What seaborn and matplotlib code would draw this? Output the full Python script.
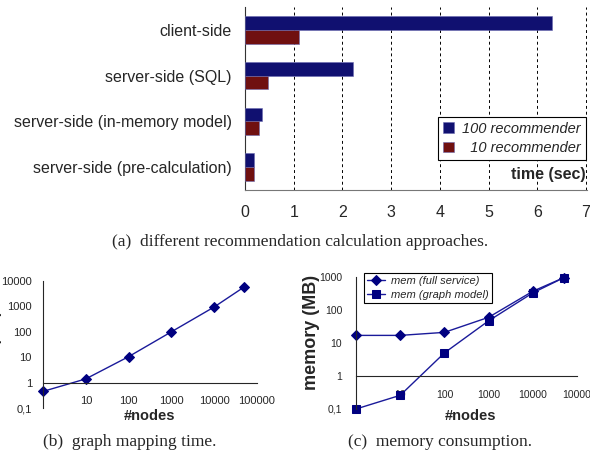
import pandas as pd
import matplotlib
matplotlib.use('Agg')
import matplotlib.pyplot as plt
from matplotlib.ticker import FixedLocator, LogLocator, NullFormatter
import seaborn as sns

# (a) recommendation calculation approaches
approaches = ['client-side', 'server-side (SQL)', 'server-side (in-memory model)',
              'server-side (pre-calculation)']
time_100 = [6.3, 2.22, 0.35, 0.19]
time_10 = [1.1, 0.47, 0.28, 0.18]
series_names = ['100 recommender', '10 recommender']

# (b) graph mapping time / (c) memory consumption
nodes = [1, 10, 100, 1000, 10000, 50000]
map_time = [0.45, 1.4, 10.5, 100, 950, 5800]
mem_full = [17, 17, 21, 60, 370, 950]
mem_graph = [0.1, 0.26, 5.0, 47, 330, 950]
b_xticklabels = ['', '10', '100', '1000', '10000', '100000']
c_xticklabels = ['', '10', '100', '1000', '10000', '10000']

sns.set_style('white')
plt.rcParams['font.family'] = ['Liberation Sans', 'DejaVu Sans']

W, H = 590, 458
fig = plt.figure(figsize=(W / 100, H / 100), dpi=100)


def px_axes(l, t, r, b):
    return fig.add_axes([l / W, 1 - b / H, (r - l) / W, (b - t) / H])


ax_a = px_axes(245, 7, 587, 190)
ax_b = px_axes(43, 281, 257, 408)
ax_c = px_axes(356, 277, 577, 409)

navy = '#000080'
maroon = '#800000'
line_col = '#1a1a9a'

# ---------- (a) ----------
df = pd.DataFrame({
    'approach': approaches * 2,
    'time': time_100 + time_10,
    'series': [series_names[0]] * 4 + [series_names[1]] * 4,
})
sns.barplot(data=df, y='approach', x='time', hue='series', orient='h',
            palette=[navy, maroon], width=0.6, errorbar=None,
            edgecolor='#6a6ab0', linewidth=0.4, ax=ax_a, zorder=3)
ax_a.set_xlim(0, 7.02)
ax_a.set_ylim(3.5, -0.5)
ax_a.set_xticks(range(8))
ax_a.xaxis.grid(True, color='black', linestyle=(0, (3, 3)), linewidth=0.7)
ax_a.set_axisbelow(True)
for s in ['top', 'right']:
    ax_a.spines[s].set_visible(False)
ax_a.spines['left'].set_color('#333333')
ax_a.spines['bottom'].set_color('#777777')
ax_a.yaxis.set_minor_locator(FixedLocator([-0.5, 0.5, 1.5, 2.5, 3.5]))
ax_a.tick_params(axis='y', which='major', length=0, pad=9.5, labelsize=11.5)
ax_a.tick_params(axis='y', which='minor', length=5, direction='out', color='#333333')
ax_a.tick_params(axis='x', direction='inout', length=8, pad=7, labelsize=11.5,
                 color='#555555')
ax_a.set_ylabel('')
ax_a.set_xlabel('time (sec)', fontweight='bold', fontsize=11.5, loc='right')
ax_a.xaxis.set_label_coords(0.995, 0.125)
h, _ = ax_a.get_legend_handles_labels()
ax_a.legend(h, ['100 recommender', '  10 recommender'], title=None,
            loc='upper right', bbox_to_anchor=(0.998, 0.40), borderaxespad=0,
            prop={'style': 'italic', 'size': 10.5}, frameon=True, fancybox=False,
            edgecolor='black', framealpha=1, handlelength=0.75, handleheight=0.75,
            labelspacing=0.35, borderpad=0.35, handletextpad=0.6)
ax_a.get_legend().get_frame().set_linewidth(0.8)


def log_panel(ax, ylim, yticks, ylabels, xlabels):
    ax.set_xscale('log')
    ax.set_yscale('log')
    ax.set_xlim(1, 1e5)
    ax.set_ylim(*ylim)
    for s in ['top', 'right']:
        ax.spines[s].set_visible(False)
    ax.spines['bottom'].set_position(('data', 1))
    ax.set_xticks([1, 10, 100, 1000, 10000, 100000], xlabels)
    ax.set_yticks(yticks, ylabels)
    ax.xaxis.set_minor_locator(LogLocator(base=10, subs=range(2, 10), numticks=20))
    ax.yaxis.set_minor_locator(LogLocator(base=10, subs=range(2, 10), numticks=20))
    ax.xaxis.set_minor_formatter(NullFormatter())
    ax.yaxis.set_minor_formatter(NullFormatter())
    ax.tick_params(which='major', direction='inout', length=6, width=0.8)
    ax.tick_params(which='minor', direction='in', length=3, width=0.6)


# ---------- (b) ----------
sns.lineplot(x=nodes, y=map_time, marker='D', color=line_col, linewidth=1,
             markersize=5.5, markerfacecolor=navy, markeredgecolor=navy,
             clip_on=False, ax=ax_b)
log_panel(ax_b, (0.1, 1e4), [0.1, 1, 10, 100, 1000, 10000],
          ['0,1', '1', '10', '100', '1000', '10000'], b_xticklabels)
ax_b.tick_params(axis='x', labelsize=8, pad=7)
ax_b.tick_params(axis='y', labelsize=8, pad=5)
ax_b.set_xlabel('#nodes', fontweight='bold', fontsize=10.5)
ax_b.xaxis.set_label_coords(0.5, -0.005)
ax_b.set_ylabel('time (sec)', fontweight='bold', fontsize=10.5)
ax_b.yaxis.set_label_coords(-0.19, 0.5)

# ---------- (c) ----------
sns.lineplot(x=nodes, y=mem_full, marker='D', color=line_col, linewidth=1,
             markersize=5.5, markerfacecolor=navy, markeredgecolor=navy,
             clip_on=False, label='mem (full service)', ax=ax_c)
sns.lineplot(x=nodes, y=mem_graph, marker='s', color=line_col, linewidth=1,
             markersize=5.5, markerfacecolor=navy, markeredgecolor=navy,
             clip_on=False, label='mem (graph model)', ax=ax_c)
log_panel(ax_c, (0.1, 1000), [0.1, 1, 10, 100, 1000],
          ['0,1', '1', '10', '100', '1000'], c_xticklabels)
ax_c.tick_params(axis='x', labelsize=7.5, pad=7)
ax_c.tick_params(axis='y', labelsize=7.5, pad=7)
ax_c.set_xlabel('#nodes', fontweight='bold', fontsize=10.5)
ax_c.xaxis.set_label_coords(0.52, 0.0)
ax_c.set_ylabel('memory (MB)', fontweight='bold', fontsize=13)
ax_c.yaxis.set_label_coords(-0.165, 0.58)
ax_c.legend(loc='upper left', bbox_to_anchor=(0.036, 1.03), borderaxespad=0,
            prop={'style': 'italic', 'size': 8}, frameon=True, fancybox=False,
            edgecolor='black', framealpha=1, handlelength=1.6,
            labelspacing=0.3, borderpad=0.3, handletextpad=0.5)
ax_c.get_legend().get_frame().set_linewidth(0.8)

# captions
cap = dict(family='Liberation Serif', fontsize=12.5, ha='center', va='center')
fig.text(300 / W, 1 - 242 / H, '(a)  different recommendation calculation approaches.', **cap)
fig.text(130 / W, 1 - 442 / H, '(b)  graph mapping time.', **cap)
fig.text(440 / W, 1 - 442 / H, '(c)  memory consumption.', **cap)

fig.savefig('out.png', dpi=100)
